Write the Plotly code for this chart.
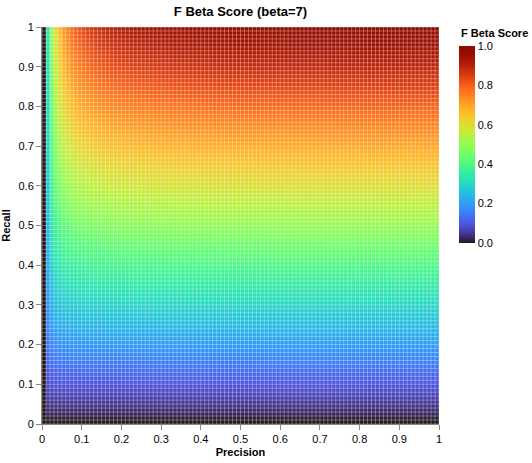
import plotly.graph_objects as go

# ---- data ----
beta = 7
precision = [round(i * 0.01, 2) for i in range(101)]
recall = [round(i * 0.01, 2) for i in range(101)]
x_ticks = [0, 0.1, 0.2, 0.3, 0.4, 0.5, 0.6, 0.7, 0.8, 0.9, 1]
y_ticks = [0, 0.1, 0.2, 0.3, 0.4, 0.5, 0.6, 0.7, 0.8, 0.9, 1]
cbar_ticks = [0.0, 0.2, 0.4, 0.6, 0.8, 1.0]


def fbeta(p, r, b):
    d = b * b * p + r
    return 0.0 if d == 0 else (1 + b * b) * p * r / d


z = [[fbeta(p, r, beta) for p in precision] for r in recall]

# cell edges (cells span value .. value+step)
step = 0.01
x_edges = precision + [round(precision[-1] + step, 2)]
y_edges = recall + [round(recall[-1] + step, 2)]


# d3 interpolateTurbo (Vega "turbo" scheme)
def turbo(t):
    r = 34.61 + t * (1172.33 - t * (10793.56 - t * (33300.12 - t * (38394.49 - t * 14825.05))))
    g = 23.31 + t * (557.33 + t * (1225.33 - t * (3574.96 - t * (1073.77 + t * 707.56))))
    b = 27.2 + t * (3211.1 - t * (15327.97 - t * (27814 - t * (22569.18 - t * 6838.66))))
    c = [max(0, min(255, round(v))) for v in (r, g, b)]
    return "rgb(%d,%d,%d)" % tuple(c)


colorscale = [[i / 40, turbo(i / 40)] for i in range(41)]

font = "Liberation Sans, Arial, Helvetica, sans-serif"

L, R, T, B = 42, 439, 27, 424
W, H = 532, 463
pw, ph = R - L, B - T

fig = go.Figure()
fig.add_trace(go.Heatmap(
    x=x_edges, y=y_edges, z=z,
    colorscale=colorscale, zmin=0, zmax=1,
    hoverinfo="skip",
    colorbar=dict(
        x=(459 - L) / pw, xanchor="left", y=(B - 46) / ph, yanchor="top",
        thickness=16, lenmode="pixels", len=197,
        outlinewidth=0, ticks="", tickvals=cbar_ticks, tickformat=".1f",
        tickfont=dict(size=11, color="#000"), ypad=0, xpad=0,
    ),
))

# faint white cell borders drawn on top, at cell edges
gx, gy = [], []
for xe in x_edges:
    gx += [xe, xe, None]
    gy += [0, 1, None]
for ye in y_edges:
    gx += [0, 1, None]
    gy += [ye, ye, None]
fig.add_trace(go.Scatter(x=gx, y=gy, mode="lines",
                         line=dict(color="rgba(255,255,255,0.32)", width=1),
                         hoverinfo="skip", showlegend=False))

axis_common = dict(
    range=[0, 1], showgrid=False, zeroline=False,
    showline=True, linecolor="#888", linewidth=1,
    ticks="outside", ticklen=5, tickcolor="#888",
    tickfont=dict(size=11, color="#000"),
)
fig.update_xaxes(tickvals=x_ticks, title=dict(text="<b>Precision</b>", font=dict(size=11, color="#000"), standoff=4),
                 **axis_common)
fig.update_yaxes(tickvals=y_ticks, title=dict(text="<b>Recall</b>", font=dict(size=11, color="#000"), standoff=8),
                 **axis_common)

fig.add_annotation(text="<b>F Beta Score</b>", xref="paper", yref="paper",
                   x=(459 - L) / pw, y=(B - 33) / ph, xanchor="left", yanchor="middle",
                   showarrow=False, font=dict(size=11, color="#000"))

fig.update_layout(
    width=W, height=H,
    margin=dict(l=L, r=W - R, t=T, b=H - B, autoexpand=False),
    paper_bgcolor="white", plot_bgcolor="white",
    font=dict(family=font, color="#000"),
    title=dict(text="<b>F Beta Score (beta=7)</b>", x=(L + pw / 2) / W, xanchor="center",
               y=1 - 11 / H, yanchor="middle", font=dict(size=13, color="#000")),
    showlegend=False,
)

fig.write_html("out.html", config={"displayModeBar": False},
               post_script="document.body.style.margin='0';")
